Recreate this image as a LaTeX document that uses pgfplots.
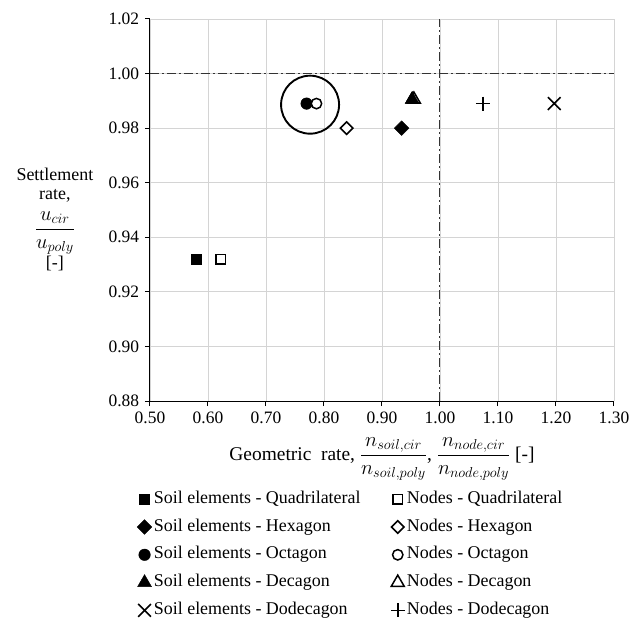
\documentclass[border=0pt]{standalone}
\usepackage{fontspec}
\setmainfont{Liberation Serif}
\usepackage{amsmath}
\usepackage{pgfplots}
\pgfplotsset{compat=1.18}
\newcommand{\mfrac}[2]{{\fontsize{21}{24}\selectfont$\dfrac{#1}{#2}$}}
\begin{document}
\fontsize{17}{20}\selectfont
\begin{tikzpicture}
\begin{axis}[
  scale only axis, width=464bp, height=382bp,
  xmin=0.5, xmax=1.3, ymin=0.88, ymax=1.02,
  xtick={0.5,0.6,0.7,0.8,0.9,1.0,1.1,1.2,1.3},
  ytick={0.88,0.90,0.92,0.94,0.96,0.98,1.00,1.02},
  grid=major, grid style={draw=black!17, line width=0.9bp},
  axis x line*=bottom, axis y line*=left,
  axis line style={-, line width=1bp, black},
  tick align=outside, major tick length=5bp,
  tick style={black, line width=1bp},
  tick label style={font=\fontsize{17.5}{20}\selectfont},
  /pgf/number format/assume math mode=true,
  xticklabel style={/pgf/number format/.cd, fixed, fixed zerofill, precision=2},
  yticklabel style={/pgf/number format/.cd, fixed, fixed zerofill, precision=2},
  xlabel={Geometric\ \ rate, \mfrac{n_{soil,cir}}{n_{soil,poly}}, \mfrac{n_{node,cir}}{n_{node,poly}} [-]},
  xlabel style={at={(axis description cs:0.5,-0.152)}, anchor=center, font=\fontsize{19.5}{22}\selectfont},
  ylabel={\begin{tabular}{@{}c@{}}Settlement\\[-1bp] rate,\\[6bp] \mfrac{u_{cir}}{u_{poly}}\\[2bp] {[-]}\end{tabular}},
  ylabel style={rotate=-90, at={(axis description cs:-0.205,0.472)}, anchor=center, font=\fontsize{18}{20}\selectfont},
  legend columns=2,
  legend cell align=left,
  legend image code/.code={\path (-7bp,0bp) (7bp,0bp); \draw[#1] plot coordinates {(0bp,0bp)};},
  legend style={draw=none, fill=none, inner sep=0pt,
    at={(axis description cs:0,0)}, anchor=north west, xshift=-13bp, yshift=-89bp,
    font=\fontsize{18}{21}\selectfont,
    nodes={inner sep=1bp, text height=12bp, text depth=4bp},
    row sep=9.8bp,
    /tikz/every odd column/.append style={column sep=1bp},
    /tikz/every even column/.append style={column sep=29bp}},
]
% reference lines at unit ratio
\addplot[forget plot, black!80, line width=1bp, dash pattern=on 9bp off 3bp on 2bp off 3bp] coordinates {(0.5,1.0) (1.3,1.0)};
\addplot[forget plot, black!80, line width=1bp, dash pattern=on 9bp off 3bp on 2bp off 3bp] coordinates {(1.0,0.88) (1.0,1.02)};

\addplot[only marks, mark=square*, mark size=5bp, mark options={fill=black}] coordinates {(0.579,0.932)};
\addlegendentry{Soil elements - Quadrilateral}
\addplot[only marks, mark=square*, mark size=4.8bp, mark options={fill=white, line width=1.5bp}] coordinates {(0.622,0.932)};
\addlegendentry{Nodes - Quadrilateral}
\addplot[only marks, mark=square*, mark size=5.2bp, mark options={fill=black, rotate=45}] coordinates {(0.934,0.980)};
\addlegendentry{Soil elements - Hexagon}
\addplot[only marks, mark=square*, mark size=4.4bp, mark options={fill=white, rotate=45, line width=1.5bp}] coordinates {(0.839,0.980)};
\addlegendentry{Nodes - Hexagon}
\addplot[only marks, mark=*, mark size=5.8bp, mark options={fill=black}] coordinates {(0.770,0.989)};
\addlegendentry{Soil elements - Octagon}
\addplot[only marks, mark=*, mark size=5.2bp, mark options={fill=white, line width=1.5bp}] coordinates {(0.787,0.989)};
\addlegendentry{Nodes - Octagon}
\addplot[only marks, mark=triangle*, mark size=8bp, mark options={fill=black}] coordinates {(0.952,0.9905)};
\addlegendentry{Soil elements - Decagon}
\addplot[only marks, mark=triangle*, mark size=7.5bp, mark options={fill=white, line width=1.5bp}] coordinates {(0.955,0.9905)};
\addlegendentry{Nodes - Decagon}
\addplot[only marks, mark=x, mark size=9bp, mark options={line width=1.6bp}] coordinates {(1.197,0.989)};
\addlegendentry{Soil elements - Dodecagon}
\addplot[only marks, mark=+, mark size=7bp, mark options={line width=1.6bp}] coordinates {(1.074,0.989)};
\addlegendentry{Nodes - Dodecagon}
% solid decagon marker sits on top of the open one
\addplot[forget plot, only marks, mark=triangle*, mark size=8bp, mark options={fill=black}] coordinates {(0.952,0.9905)};

% highlight around the octagon pair
\draw[line width=1.9bp] (axis cs:0.776,0.9886) circle[radius=29bp];
\end{axis}
\pgfresetboundingbox
\useasboundingbox (-150bp,-218bp) rectangle (480bp,401bp);
\end{tikzpicture}
\end{document}
